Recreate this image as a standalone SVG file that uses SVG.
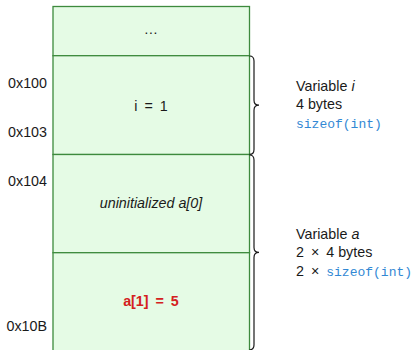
<svg xmlns="http://www.w3.org/2000/svg" width="415" height="350" viewBox="0 0 415 350">
  <style>
    .cell { fill: #e5fbe5; stroke: #3d8a3d; stroke-width: 1.3; }
    .brace { fill: none; stroke: #1a1a1a; stroke-width: 1.2; }
    text { font-family: "Liberation Sans", Arial, sans-serif; font-size: 14.3px; fill: #1a1a1a; }
    .mid { text-anchor: middle; }
    .addr { text-anchor: end; }
    .math { word-spacing: 3px; }
    .mono { font-family: "Liberation Mono", "Courier New", monospace; font-size: 13px; fill: #3288d4; word-spacing: 0; }
    .hot { fill: #d42020; font-weight: bold; }
  </style>

  <!-- memory cells -->
  <g id="cell-ellipsis">
    <rect class="cell" x="53" y="6.5" width="196.5" height="49.2"/>
    <text class="mid" x="151" y="34">…</text>
  </g>
  <g id="cell-i">
    <rect class="cell" x="53" y="55.7" width="196.5" height="98.8"/>
    <text class="mid math" x="151" y="111">i = 1</text>
  </g>
  <g id="cell-a0">
    <rect class="cell" x="53" y="154.5" width="196.5" height="98.2"/>
    <text class="mid" x="151" y="207.5" font-style="italic">uninitialized a[0]</text>
  </g>
  <g id="cell-a1">
    <rect class="cell" x="53" y="252.7" width="196.5" height="99"/>
    <text class="mid hot math" x="151" y="306">a[1] = 5</text>
  </g>

  <!-- addresses -->
  <g id="addresses">
    <text class="addr" x="47" y="87.5">0x100</text>
    <text class="addr" x="47" y="136.5">0x103</text>
    <text class="addr" x="47" y="185.5">0x104</text>
    <text class="addr" x="47" y="331">0x10B</text>
  </g>

  <!-- braces -->
  <g id="connectors">
    <path class="brace" d="M249.5,56 q4.5,0 4.5,5 v39.2 q0,5 5,5 q-5,0 -5,5 v39.2 q0,5 -4.5,5"/>
    <path class="brace" d="M249.5,155 q4.5,0 4.5,5 v87.4 q0,5 5,5 q-5,0 -5,5 v87.4 q0,5 -4.5,5"/>
  </g>

  <!-- annotations -->
  <g id="label-i">
    <text x="296" y="90.5">Variable <tspan font-style="italic">i</tspan></text>
    <text x="296" y="109">4 bytes</text>
    <text class="mono" x="296" y="127.5">sizeof(int)</text>
  </g>
  <g id="label-a">
    <text x="296" y="238.5">Variable <tspan font-style="italic">a</tspan></text>
    <text x="296" y="257"><tspan class="math">2 × </tspan>4 bytes</text>
    <text class="math" x="296" y="275.5">2 × <tspan class="mono">sizeof(int)</tspan></text>
  </g>
</svg>
